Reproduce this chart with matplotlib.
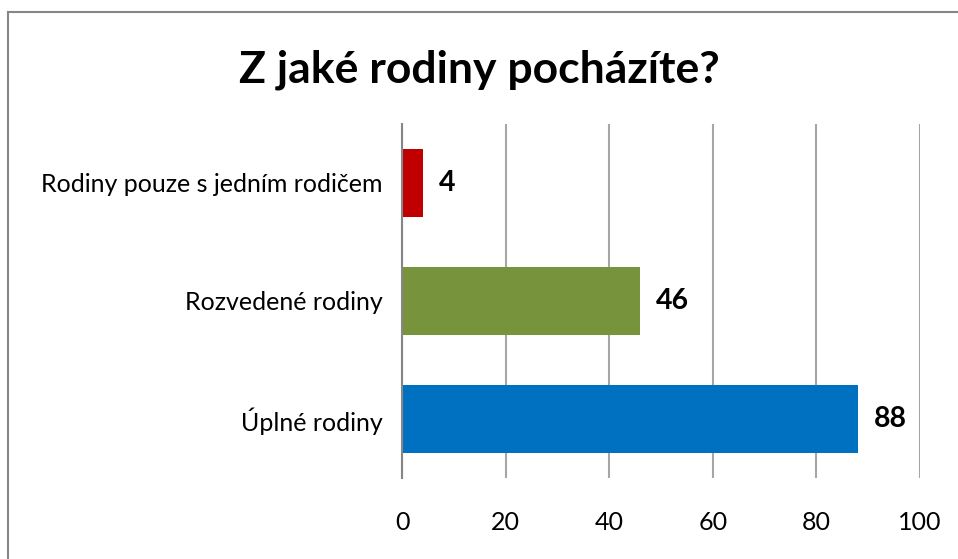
import matplotlib
matplotlib.use("Agg")
import matplotlib.pyplot as plt
from matplotlib.lines import Line2D

categories = ["Úplné rodiny", "Rozvedené rodiny", "Rodiny pouze s jedním rodičem"]
values = [88, 46, 4]
colors = ["#0070C0", "#77933C", "#C00000"]
xticks = [0, 20, 40, 60, 80, 100]

plt.rcParams['font.family'] = ['Lato', 'DejaVu Sans']

fig = plt.figure(figsize=(9.58, 5.59), dpi=100)
ax = fig.add_axes([402 / 958, 1 - 478 / 559, 518 / 958, 354 / 559])

pos = range(len(categories))
ax.barh(pos, values, height=0.576, color=colors, zorder=3)
ax.set_ylim(-0.5, len(categories) - 0.5)
ax.set_xlim(0, 100)
ax.set_xticks(xticks)
ax.set_yticks(list(pos))
ax.set_yticklabels(categories)
ax.tick_params(axis='both', length=0, labelsize=18)
ax.tick_params(axis='x', pad=24)
ax.tick_params(axis='y', pad=14)
ax.grid(axis='x', color='#A6A6A6', linewidth=1.5, zorder=0)
for s in ['top', 'right', 'bottom']:
    ax.spines[s].set_visible(False)
ax.spines['left'].set_color('#868686')
ax.spines['left'].set_linewidth(1.5)
ax.spines['left'].set_zorder(4)

for p, v in zip(pos, values):
    ax.text(v + 3.1, p, str(v), va='center', ha='left', fontsize=20.5, fontweight='bold', zorder=5)

fig.text(0.5, 1 - 70 / 559, "Z jaké rodiny pocházíte?", ha='center', va='center',
         fontsize=32, fontweight='bold')

# border of chart area (only left and top visible in the picture)
fig.add_artist(Line2D([8 / 958, 8 / 958], [0, 1 - 12 / 559], color='#868686', linewidth=1.5,
                      transform=fig.transFigure))
fig.add_artist(Line2D([8 / 958, 1], [1 - 12 / 559, 1 - 12 / 559], color='#868686', linewidth=1.5,
                      transform=fig.transFigure))

fig.savefig("out.png", dpi=100)
